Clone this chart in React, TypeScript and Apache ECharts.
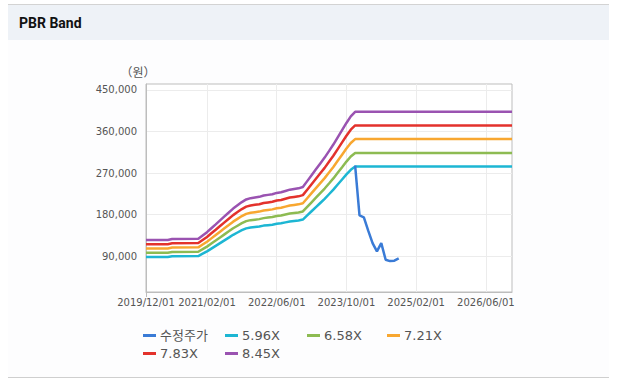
import { useEffect, useRef } from 'react';
import * as echarts from 'echarts';

// Book value per share (BPS) points behind the PBR bands
const bpsDates = [
  '2019/12', '2020/05', '2020/06', '2020/12', '2021/01', '2021/02', '2021/03', '2021/04', '2021/05',
  '2021/06', '2021/07', '2021/08', '2021/09', '2021/10', '2021/11', '2021/12', '2022/01', '2022/02',
  '2022/03', '2022/04', '2022/05', '2022/06', '2022/07', '2022/08', '2022/09', '2022/10', '2022/11',
  '2022/12', '2023/01', '2023/02', '2023/03', '2023/04', '2023/05', '2023/06', '2023/07', '2023/08',
  '2023/09', '2023/10', '2023/11', '2023/12', '2026/12',
];
const bpsValues = [
  14770, 14770, 15020, 15100, 15940, 16780, 17790, 18790, 19800,
  20810, 21810, 22820, 23660, 24500, 25170, 25500, 25670, 25840,
  26170, 26340, 26510, 26850, 27010, 27350, 27680, 27850, 28020,
  28360, 29870, 31380, 32890, 34400, 35910, 37580, 39260, 41110,
  42950, 44800, 46480, 47650, 47650,
];
const bandMultiples = [5.96, 6.58, 7.21, 7.83, 8.45];
const bandNames = ['5.96X', '6.58X', '7.21X', '7.83X', '8.45X'];
const bandColors = ['#1db6d3', '#8dbb52', '#f8a730', '#e3322c', '#9a53b1'];

const priceName = '수정주가';
const priceColor = '#3a7bd6';
const priceDates = [
  '2023/12', '2024/01', '2024/02', '2024/03', '2024/04', '2024/05',
  '2024/06', '2024/07', '2024/08', '2024/09', '2024/10',
];
const priceValues = [286000, 178000, 174000, 145000, 118000, 100000, 118000, 82000, 79000, 80000, 85000];

const xTickDates = ['2019/12', '2021/02', '2022/06', '2023/10', '2025/02', '2026/06'];
const xStart = '2019/12';
const xEnd = '2026/12';
const yTicks = [90000, 180000, 270000, 360000, 450000];

const FONT = '"DejaVu Sans", "Noto Sans CJK KR", sans-serif';

function monthIndex(d: string) {
  const [y, m] = d.split('/').map(Number);
  return (y - 2019) * 12 + (m - 12);
}
function monthLabel(i: number) {
  const total = 2019 * 12 + 11 + Math.round(i);
  const y = Math.floor(total / 12);
  const m = (total % 12) + 1;
  return `${y}/${String(m).padStart(2, '0')}/01`;
}

export default function App() {
  const ref = useRef<HTMLDivElement>(null);
  useEffect(() => {
    if (!ref.current) return;
    const chart = echarts.init(ref.current, undefined, { renderer: 'svg' });

    const bandSeries = bandNames.map((name, k) => ({
      name,
      type: 'line',
      showSymbol: false,
      symbol: 'none',
      color: bandColors[k],
      lineStyle: { width: 2.5, color: bandColors[k] },
      data: bpsDates.map((d, i) => [monthIndex(d), Math.round(bpsValues[i] * bandMultiples[k])]),
    }));
    const priceSeries = {
      name: priceName,
      type: 'line',
      showSymbol: false,
      symbol: 'none',
      color: priceColor,
      lineStyle: { width: 2.5, color: priceColor },
      data: priceDates.map((d, i) => [monthIndex(d), priceValues[i]]),
    };

    const legendItems: { name: string; left: number; top: number }[] = [
      { name: priceName, left: 143, top: 329 },
      { name: bandNames[0], left: 225, top: 329 },
      { name: bandNames[1], left: 307, top: 329 },
      { name: bandNames[2], left: 387, top: 329 },
      { name: bandNames[3], left: 143, top: 347 },
      { name: bandNames[4], left: 225, top: 347 },
    ];

    const xTicks = xTickDates.map(monthIndex);

    chart.setOption({
      animation: false,
      backgroundColor: '#ffffff',
      graphic: [
        { type: 'rect', shape: { x: 8, y: 4, width: 601, height: 374 }, style: { fill: '#fdfdfe' }, z: -10 },
        { type: 'rect', shape: { x: 8, y: 5, width: 601, height: 35 }, style: { fill: '#eef2f7' }, z: -9 },
        { type: 'line', shape: { x1: 8, y1: 4.5, x2: 609, y2: 4.5 }, style: { stroke: '#d3d3d3', lineWidth: 1 }, z: -8 },
        { type: 'line', shape: { x1: 8, y1: 377.5, x2: 609, y2: 377.5 }, style: { stroke: '#cfcfcf', lineWidth: 1 }, z: -8 },
        { type: 'line', shape: { x1: 146.5, y1: 292, x2: 146.5, y2: 297 }, style: { stroke: '#bdbdbd', lineWidth: 1 } },
        {
          type: 'text', x: 19, y: 23,
          style: { text: 'PBR Band', fill: '#111', fontSize: 14, fontWeight: 'bold', fontFamily: 'Roboto, sans-serif', verticalAlign: 'middle' },
        },
        {
          type: 'text', x: 138, y: 71,
          style: { text: '（원）', fill: '#555', fontSize: 12, fontFamily: '"Noto Sans CJK KR", sans-serif', align: 'center', verticalAlign: 'middle' },
        },
      ],
      legend: legendItems.map((it) => ({
        data: [it.name],
        left: it.left,
        top: it.top,
        padding: 0,
        icon: 'rect',
        itemWidth: 13,
        itemHeight: 3,
        itemGap: 0,
        selectedMode: false,
        textStyle: { fontSize: 13, color: '#555', fontFamily: FONT, padding: [0, 0, 0, -1] },
      })),
      grid: {
        left: 146, top: 84, right: 112, bottom: 92,
        show: true, borderColor: '#bdbdbd', borderWidth: 1, backgroundColor: '#ffffff',
        containLabel: false,
      },
      xAxis: {
        type: 'value',
        min: monthIndex(xStart),
        max: monthIndex(xEnd),
        axisLine: { show: true, lineStyle: { color: '#bdbdbd' } },
        axisTick: { show: false, customValues: xTicks },
        splitLine: { show: true, lineStyle: { color: '#ececec', width: 1 } },
        axisLabel: {
          customValues: xTicks,
          margin: 5, color: '#555', fontSize: 10, fontFamily: FONT,
          formatter: (v: number) => monthLabel(v),
        },
      },
      yAxis: {
        type: 'value',
        min: 12000,
        max: 463000,
        axisLine: { show: true, lineStyle: { color: '#bdbdbd' } },
        axisTick: { show: false, customValues: yTicks },
        splitLine: { show: true, lineStyle: { color: '#ececec', width: 1 } },
        axisLabel: {
          customValues: yTicks,
          margin: 9, color: '#555', fontSize: 10, fontFamily: FONT,
          formatter: (v: number) => v.toLocaleString('en-US'),
        },
      },
      series: [...bandSeries, priceSeries],
    });
    return () => chart.dispose();
  }, []);
  return <div ref={ref} style={{ position: 'fixed', left: 0, top: 0, width: 624, height: 384 }} />;
}
